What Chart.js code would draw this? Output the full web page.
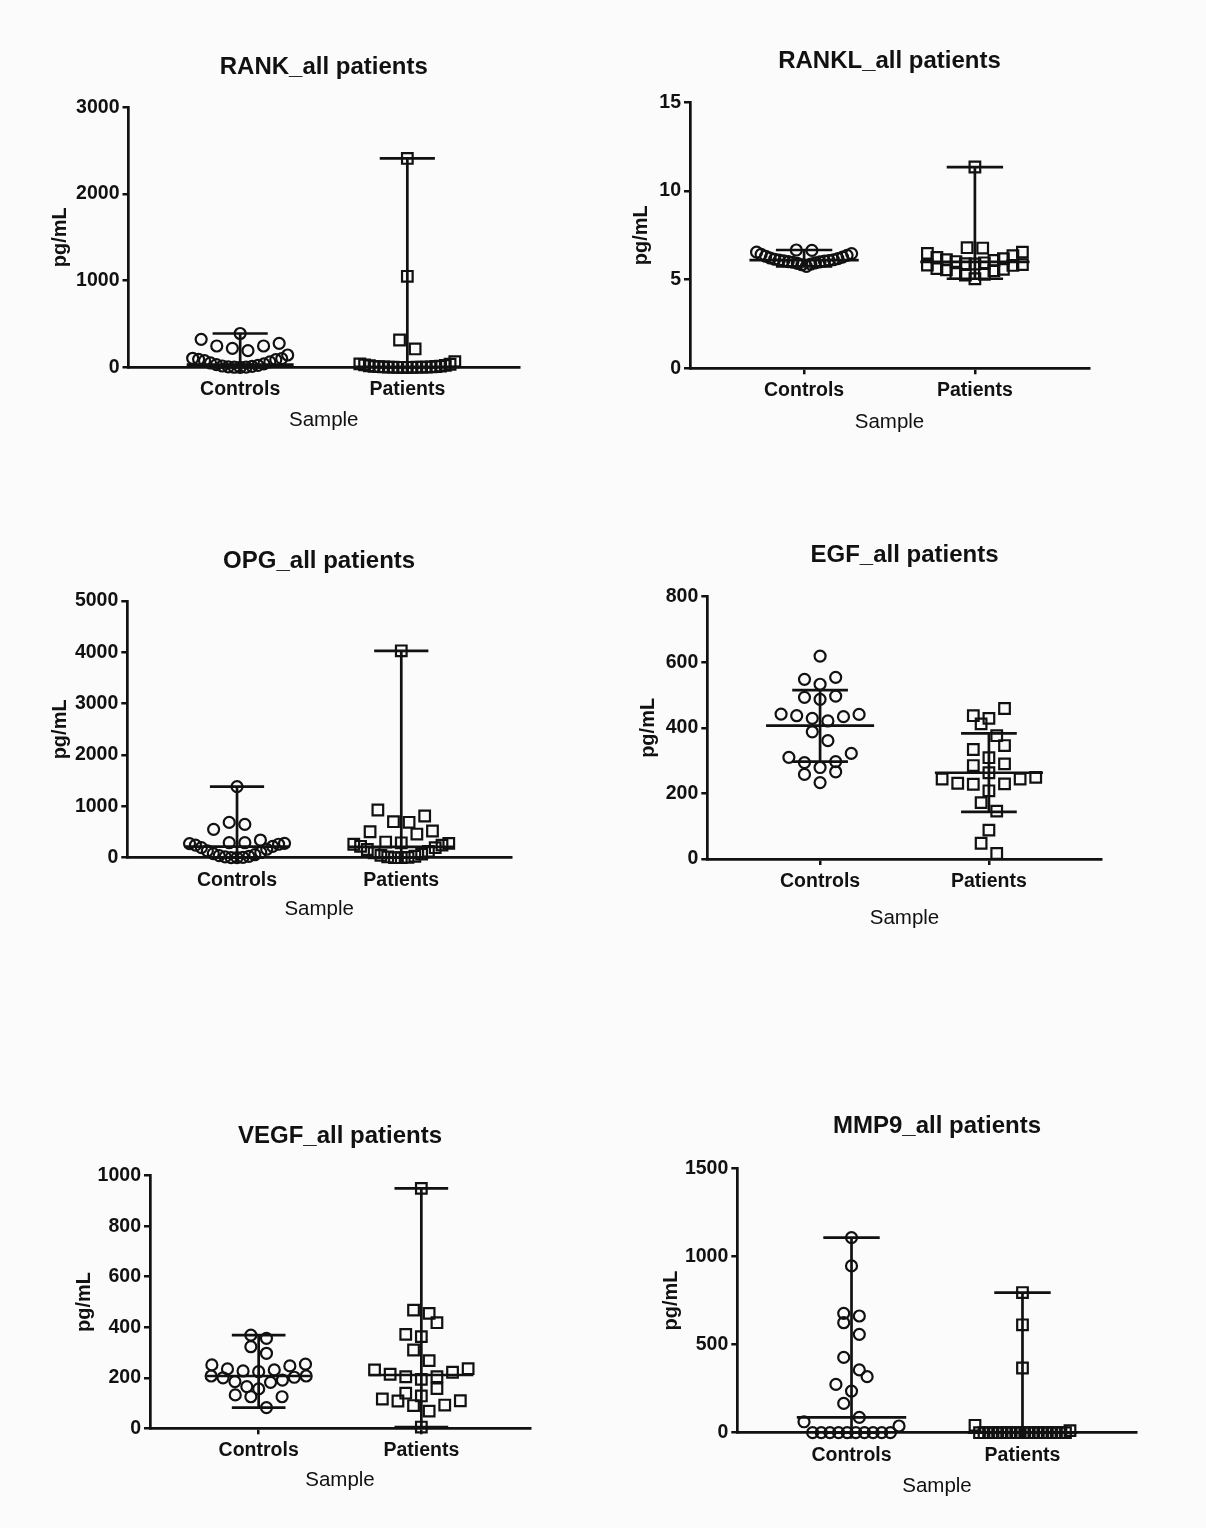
<!DOCTYPE html>
<html>
<head>
<meta charset="utf-8">
<script src="https://cdn.jsdelivr.net/npm/chart.js@4.4.1/dist/chart.umd.min.js"></script>
<style>
  body { margin: 0; width: 1206px; height: 1528px; background: #fbfbfb; position: relative; overflow: hidden; }
  canvas { position: absolute; }
</style>
</head>
<body>
<canvas id="rank"></canvas>
<canvas id="rankl"></canvas>
<canvas id="opg"></canvas>
<canvas id="egf"></canvas>
<canvas id="vegf"></canvas>
<canvas id="mmp9"></canvas>
<script>
// categories
const groups = ['Controls', 'Patients'];

// RANK (pg/mL)
const rankControls = [390, 323, 277, 246, 246, 219, 192, 142, 104, 100, 92, 88, 77, 62, 50, 40, 30, 22, 15, 10, 6, 3, 1, 0];
const rankPatients = [2410, 1050, 315, 212, 65, 40, 35, 28, 22, 18, 14, 11, 9, 7, 5, 4, 3, 2, 2, 1, 1, 0, 0, 0, 0];
const rankMedian = [30, 5];
const rankLow = [0, 0];
const rankHigh = [390, 2410];

// RANKL
const ranklControls = [6.67, 6.65, 6.55, 6.47, 6.42, 6.37, 6.32, 6.27, 6.22, 6.18, 6.15, 6.12, 6.10, 6.08, 6.06, 6.04, 6.02, 6.00, 5.98, 5.95, 5.92, 5.88, 5.84, 5.75];
const ranklPatients = [11.35, 6.80, 6.78, 6.55, 6.48, 6.35, 6.25, 6.18, 6.12, 6.08, 6.02, 5.95, 5.90, 5.88, 5.85, 5.82, 5.80, 5.62, 5.58, 5.55, 5.50, 5.35, 5.30, 5.25, 5.05];
const ranklMedian = [6.1, 6.0];
const ranklLow = [5.75, 5.05];
const ranklHigh = [6.67, 11.35];

// OPG
const opgControls = [1383, 688, 649, 552, 344, 292, 292, 280, 275, 262, 245, 222, 195, 165, 135, 105, 80, 58, 40, 25, 15, 8, 3, 0];
const opgPatients = [4030, 929, 812, 701, 689, 520, 506, 461, 305, 290, 278, 262, 245, 222, 195, 160, 125, 95, 68, 45, 28, 15, 6, 0, 0];
const opgMedian = [215, 210];
const opgLow = [0, 0];
const opgHigh = [1383, 4030];

// EGF (median with interquartile range)
const egfControls = [619, 554, 548, 533, 497, 493, 487, 442, 441, 437, 434, 429, 421, 388, 361, 322, 310, 297, 294, 279, 266, 258, 233];
const egfPatients = [459, 437, 429, 412, 376, 346, 334, 309, 290, 285, 263, 249, 244, 244, 231, 229, 228, 208, 172, 146, 88, 48, 17];
const egfMedian = [407, 263];
const egfLow = [297, 144];
const egfHigh = [515, 383];

// VEGF
const vegfControls = [369, 356, 323, 297, 254, 251, 247, 235, 231, 227, 224, 207, 207, 202, 200, 191, 185, 182, 165, 156, 132, 125, 125, 82];
const vegfPatients = [950, 468, 455, 418, 372, 363, 310, 268, 236, 231, 222, 214, 204, 204, 194, 157, 139, 128, 116, 109, 108, 92, 90, 68, 5];
const vegfMedian = [207, 211];
const vegfLow = [82, 5];
const vegfHigh = [369, 950];

// MMP9
const mmp9Controls = [1107, 946, 677, 662, 624, 558, 427, 356, 318, 274, 236, 166, 87, 62, 38, 0, 0, 0, 0, 0, 0, 0, 0, 0, 0];
const mmp9Patients = [795, 612, 367, 42, 12, 0, 0, 0, 0, 0, 0, 0, 0, 0, 0, 0, 0, 0, 0, 0, 0, 0, 0, 0, 0];
const mmp9Median = [87, 0];
const mmp9Low = [0, 0];
const mmp9High = [1107, 795];

const X_MIN = -0.668, X_MAX = 1.668;
const INK = '#111';
Chart.defaults.font.family = "'Liberation Sans', Arial, sans-serif";
Chart.defaults.color = INK;

// page layout of each panel (where its axes sit on the page)
const panels = [
  { id: 'rank', title: 'RANK_all patients', yMax: 3000, yStep: 1000,
    controls: rankControls, patients: rankPatients, median: rankMedian, low: rankLow, high: rankHigh,
    axisX: 128.5, top: 107.3, bottom: 367.3, right: 519, titleY: 67, ylabX: 60.5, sampleY: 420 },
  { id: 'rankl', title: 'RANKL_all patients', yMax: 15, yStep: 5,
    controls: ranklControls, patients: ranklPatients, median: ranklMedian, low: ranklLow, high: ranklHigh,
    axisX: 690, top: 102.3, bottom: 368.3, right: 1089, titleY: 61, ylabX: 641, sampleY: 422 },
  { id: 'opg', title: 'OPG_all patients', yMax: 5000, yStep: 1000,
    controls: opgControls, patients: opgPatients, median: opgMedian, low: opgLow, high: opgHigh,
    axisX: 127.3, top: 601, bottom: 857.7, right: 511, titleY: 561, ylabX: 60, sampleY: 909 },
  { id: 'egf', title: 'EGF_all patients', yMax: 800, yStep: 200,
    controls: egfControls, patients: egfPatients, median: egfMedian, low: egfLow, high: egfHigh,
    axisX: 707.3, top: 596.7, bottom: 859, right: 1101.7, titleY: 555, ylabX: 648.5, sampleY: 918 },
  { id: 'vegf', title: 'VEGF_all patients', yMax: 1000, yStep: 200,
    controls: vegfControls, patients: vegfPatients, median: vegfMedian, low: vegfLow, high: vegfHigh,
    axisX: 150, top: 1175.7, bottom: 1428.3, right: 530, titleY: 1136, ylabX: 84.3, sampleY: 1480 },
  { id: 'mmp9', title: 'MMP9_all patients', yMax: 1500, yStep: 500,
    controls: mmp9Controls, patients: mmp9Patients, median: mmp9Median, low: mmp9Low, high: mmp9High,
    axisX: 737.3, top: 1168.3, bottom: 1432.7, right: 1136.7, titleY: 1126, ylabX: 671, sampleY: 1486 }
];

// GraphPad-like scatter: sorted values grouped into rows one symbol high,
// each row spread sideways from the centre (lowest in the middle)
function swarm(values, center, pxY, pxX) {
  const rowH = 14.5 / pxY;
  const rows = [];
  let row = null;
  values.slice().sort((a, b) => a - b).forEach(v => {
    if (!row || v >= row.start + rowH) {
      row = { start: v, vals: [] };
      rows.push(row);
    }
    row.vals.push(v);
  });
  const out = [];
  rows.forEach(r => {
    const n = r.vals.length;
    const gap = n > 1 ? Math.min(15.6, 95 / (n - 1)) : 0;
    r.vals.forEach((v, i) => {
      let slot;
      if (n % 2) slot = Math.ceil(i / 2) * (i % 2 ? -1 : 1);
      else slot = (Math.floor(i / 2) + 0.5) * (i % 2 ? -1 : 1);
      out.push({ x: center + slot * gap / pxX, y: v });
    });
  });
  return out;
}

// median line + range/IQR whiskers for both groups
function rangeLines(median, low, high) {
  const pts = [];
  [0, 1].forEach(c => {
    pts.push(
      { x: c - 0.32, y: median[c] }, { x: c + 0.32, y: median[c] }, { x: c, y: null },
      { x: c - 0.165, y: high[c] }, { x: c + 0.165, y: high[c] }, { x: c, y: null },
      { x: c - 0.165, y: low[c] }, { x: c + 0.165, y: low[c] }, { x: c, y: null },
      { x: c, y: low[c] }, { x: c, y: high[c] }, { x: c, y: null }
    );
  });
  return pts;
}

function buildPanel(p) {
  const canvas = document.getElementById(p.id);
  const titleHalf = 24 * 1.2 / 2;
  const left = Math.round(p.ylabX - 22);
  const top = Math.round(p.titleY - 4 - titleHalf);
  const W = Math.round(p.right - left) + 12;
  const H = Math.round(p.sampleY + 18 - top);
  canvas.width = W;
  canvas.height = H;
  canvas.style.left = left + 'px';
  canvas.style.top = top + 'px';

  const yW = p.axisX - left;
  const xH = top + H - p.bottom;
  const pxY = (p.bottom - p.top) / p.yMax;
  const pxX = (p.right - p.axisX) / (X_MAX - X_MIN);

  return new Chart(canvas.getContext('2d'), {
    type: 'scatter',
    data: {
      datasets: [
        {
          data: rangeLines(p.median, p.low, p.high),
          showLine: true, spanGaps: false, pointRadius: 0,
          borderColor: INK, borderWidth: 2.7, clip: false, order: 0
        },
        {
          data: swarm(p.controls, 0, pxY, pxX),
          pointStyle: 'circle', pointRadius: 5.5, borderWidth: 2.2,
          borderColor: INK, backgroundColor: 'rgba(255,255,255,0)', clip: false, order: 1
        },
        {
          data: swarm(p.patients, 1, pxY, pxX),
          pointStyle: 'rect', pointRadius: 7.5, borderWidth: 2.2,
          borderColor: INK, backgroundColor: 'rgba(255,255,255,0)', clip: false, order: 1
        }
      ]
    },
    options: {
      responsive: false,
      animation: false,
      events: [],
      layout: { padding: { top: 0, left: 0, bottom: 0, right: W - (p.right - left) } },
      plugins: {
        legend: { display: false },
        tooltip: { enabled: false },
        title: {
          display: true, text: p.title, fullSize: false, color: INK,
          font: { size: 24, weight: 'bold' },
          padding: { top: p.titleY - top - titleHalf, bottom: p.top - p.titleY - titleHalf }
        }
      },
      scales: {
        x: {
          type: 'linear', min: X_MIN, max: X_MAX,
          afterBuildTicks: s => { s.ticks = [{ value: 0 }, { value: 1 }]; },
          afterFit: s => { s.height = xH; },
          ticks: { callback: v => groups[v], color: INK, font: { size: 19.5, weight: 'bold' }, padding: 5, maxRotation: 0 },
          grid: { drawOnChartArea: false, drawTicks: true, tickLength: 6, color: INK, lineWidth: 2.5 },
          border: { display: true, color: INK, width: 2.7 },
          title: { display: true, text: 'Sample', color: INK, font: { size: 20.5 },
                   padding: { top: 0, bottom: top + H - 12.3 - p.sampleY } }
        },
        y: {
          min: 0, max: p.yMax,
          afterFit: s => { s.width = yW; },
          ticks: { stepSize: p.yStep, callback: v => String(v), color: INK, font: { size: 19.5, weight: 'bold' }, padding: 3 },
          grid: { drawOnChartArea: false, drawTicks: true, tickLength: 6, color: INK, lineWidth: 2.5 },
          border: { display: true, color: INK, width: 2.7 },
          title: { display: true, text: 'pg/mL', color: INK, font: { size: 20, weight: 'bold' },
                   padding: { top: p.ylabX - left - 12, bottom: 0 } }
        }
      }
    }
  });
}

panels.forEach(buildPanel);
</script>
</body>
</html>
